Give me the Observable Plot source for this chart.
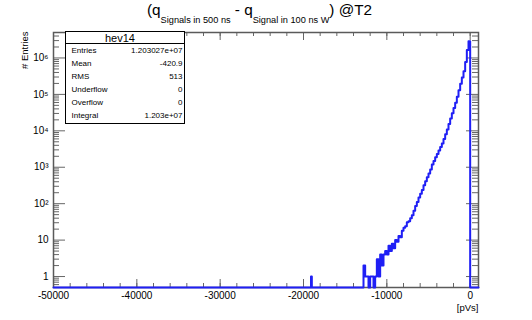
<!DOCTYPE html>
<html>
<head>
<meta charset="utf-8">
<script src="https://cdn.jsdelivr.net/npm/d3@7"></script>
<script src="https://cdn.jsdelivr.net/npm/@observablehq/plot@0.6"></script>
<style>
html, body { margin: 0; padding: 0; background: #fff; }
#wrap { position: relative; width: 532px; height: 320px; font-family: "Liberation Sans", Arial, Helvetica, sans-serif; color: #000; }
#chart svg { display: block; }
#title { position: absolute; left: 147px; top: 2px; font-size: 15.3px; line-height: 1; white-space: nowrap; }
#title .sub { font-size: 9.2px; position: relative; top: 8.3px; }
#stats { position: absolute; left: 65px; top: 31px; width: 120px; height: 93px; box-sizing: border-box; border: 1px solid #000; background: #fff; }
#stats .hdr { position: absolute; left: 0; width: 108px; top: 1px; text-align: center; font-size: 11px; line-height: 1; }
#stats .sep { position: absolute; left: 0; right: 0; top: 11px; height: 1px; background: #000; }
#stats .lab { position: absolute; left: 5.5px; font-size: 8px; line-height: 1; white-space: nowrap; }
#stats .val { position: absolute; right: 1.5px; font-size: 8px; line-height: 1; white-space: nowrap; text-align: right; }
</style>
</head>
<body>
<div id="wrap">
  <div id="chart"></div>
  <div id="title"></div>
  <div id="stats"></div>
</div>
<script>
// ---- Histogram data (bin edges in pVs, counts per bin) ----
const binEdges = [
  -50000, -19100, -19000,
  -13000, -12800, -12600, -12400, -12200, -12000, -11800, -11600, -11400, -11200,
  -11000, -10800, -10600, -10400, -10200, -10000, -9800, -9600, -9400, -9200,
  -9000, -8800, -8600, -8400, -8200, -8000, -7800, -7600, -7400, -7200,
  -7000, -6800, -6600, -6400, -6200, -6000, -5800, -5600, -5400, -5200,
  -5000, -4800, -4600, -4400, -4200, -4000, -3800, -3600, -3400, -3200,
  -3000, -2800, -2600, -2400, -2200, -2000, -1800, -1600, -1400, -1200,
  -1000, -800, -600, -400, -200, 0, 1000
];
const binCounts = [
  0, 1, 0,
  0, 2, 1, 1, 0, 1, 1, 0, 1, 3,
  1, 4, 2, 4, 5, 4, 7, 5, 8, 6,
  10, 9, 13, 12, 18, 22, 24, 31, 33, 40,
  48, 64, 86, 112, 148, 188, 238, 318, 415, 528,
  676, 868, 1190, 1480, 1870, 2310, 2890, 3620, 4520, 5980,
  8050, 10900, 15400, 21800, 30200, 42100, 59300, 86500, 130000, 196000,
  291000, 432000, 780000, 1650000, 2870000, 0
];

// ---- Axes ----
const xDomain = [-50000, 1000];
const yDomain = [0.5, 5e6];
const xMajorTicks = [-50000, -40000, -30000, -20000, -10000, 0];
const yMajorTicks = [1, 10, 100, 1000, 10000, 100000, 1000000];
const yTickLabels = ["1", "10", "10\u00B2", "10\u00B3", "10\u2074", "10\u2075", "10\u2076"];
const xLabel = "[pVs]";
const yLabel = "# Entries";

// ---- Stats box ----
const statsTitle = "hev14";
const statsLabels = ["Entries", "Mean", "RMS", "Underflow", "Overflow", "Integral"];
const statsValues = ["1.203027e+07", "-420.9", "513", "0", "0", "1.203e+07"];

// ---- Title ----
const titleParts = [["(q", false], ["Signals in 500 ns", true], [" - q", false], ["Signal in 100 ns W", true], [") @T2", false]];

// minor tick positions (axis decoration)
const xMinorTicks = [];
for (let v = xDomain[0]; v <= 0; v += 2000) xMinorTicks.push(v);
const yMinorTicks = [];
for (let k = 6; k <= 9; k++) yMinorTicks.push(k / 10);
for (let d = 0; d <= 6; d++) for (let k = 2; k <= 9; k++) { const v = k * Math.pow(10, d); if (v < yDomain[1]) yMinorTicks.push(v); }

const W = 532, H = 320, mT = 32, mB = 33, mL = 53, mR = 54;
const FW = W - mL - mR, FH = H - mT - mB;
const tickColor = "#666";

// step outline of the histogram (empty bins sit on the bottom of the frame)
const steps = [];
binCounts.forEach((c, i) => {
  const v = Math.max(c, yDomain[0]);
  steps.push({x: binEdges[i], y: v}, {x: binEdges[i + 1], y: v});
});

const chart = Plot.plot({
  width: W, height: H,
  marginTop: mT, marginBottom: mB, marginLeft: mL, marginRight: mR,
  style: {fontFamily: "'Liberation Sans', Arial, Helvetica, sans-serif", fontSize: "10px", background: "#fff", color: "#000"},
  x: {domain: xDomain},
  y: {type: "log", domain: yDomain},
  marks: [
    Plot.ruleX(xMinorTicks, {insetTop: FH - 4, stroke: tickColor, strokeWidth: 1}),
    Plot.ruleX(xMinorTicks, {insetBottom: FH - 4, stroke: tickColor, strokeWidth: 1}),
    Plot.ruleX(xMajorTicks, {insetTop: FH - 8, stroke: tickColor, strokeWidth: 1}),
    Plot.ruleX(xMajorTicks, {insetBottom: FH - 8, stroke: tickColor, strokeWidth: 1}),
    Plot.ruleY(yMinorTicks, {insetRight: FW - 6, stroke: tickColor, strokeWidth: 1}),
    Plot.ruleY(yMinorTicks, {insetLeft: FW - 6, stroke: tickColor, strokeWidth: 1}),
    Plot.ruleY(yMajorTicks, {insetRight: FW - 12, stroke: tickColor, strokeWidth: 1}),
    Plot.ruleY(yMajorTicks, {insetLeft: FW - 12, stroke: tickColor, strokeWidth: 1}),
    Plot.frame({stroke: "#5a5a5a", strokeWidth: 1.5}),
    Plot.line(steps, {x: "x", y: "y", stroke: "#1f1ff5", strokeWidth: 2}),
    Plot.axisX({ticks: xMajorTicks, tickSize: 0, tickPadding: 4, tickFormat: d => String(d), fontSize: 10, label: null}),
    Plot.axisY({ticks: yMajorTicks, tickSize: 0, tickPadding: 5, tickFormat: d => yTickLabels[yMajorTicks.indexOf(d)], fontSize: 10, label: null}),
    Plot.text([yLabel], {frameAnchor: "top-left", dx: -25.5, dy: -1, rotate: -90, textAnchor: "end", lineAnchor: "bottom", fontSize: 9.5}),
    Plot.text([xLabel], {frameAnchor: "bottom-right", dy: 23, textAnchor: "end", lineAnchor: "bottom", fontSize: 9.5})
  ]
});
document.getElementById("chart").appendChild(chart);

// title with subscripts
const title = document.getElementById("title");
titleParts.forEach(([t, sub]) => {
  const s = document.createElement("span");
  if (sub) s.className = "sub";
  s.textContent = t;
  title.appendChild(s);
});

// stats box
const stats = document.getElementById("stats");
const hdr = document.createElement("div"); hdr.className = "hdr"; hdr.textContent = statsTitle; stats.appendChild(hdr);
const sep = document.createElement("div"); sep.className = "sep"; stats.appendChild(sep);
statsLabels.forEach((lab, i) => {
  const top = (14.9 + 13 * i) + "px";
  const a = document.createElement("div"); a.className = "lab"; a.style.top = top; a.textContent = lab; stats.appendChild(a);
  const b = document.createElement("div"); b.className = "val"; b.style.top = top; b.textContent = statsValues[i]; stats.appendChild(b);
});
</script>
</body>
</html>
